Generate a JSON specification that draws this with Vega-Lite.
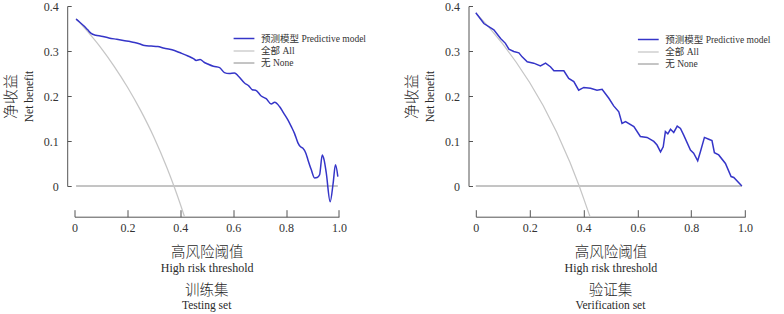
{
  "$schema": "https://vega.github.io/schema/vega-lite/v6.json",
  "padding": {"left": 2.5, "top": 0, "right": 0, "bottom": 0},
  "bounds": "flush",
  "spacing": 136.3,
  "resolve": {
    "scale": {"color": "independent", "strokeWidth": "independent"},
    "legend": {"color": "independent", "strokeWidth": "independent"}
  },
  "config": {
    "view": {"stroke": null},
    "font": "Liberation Serif, Times New Roman, Noto Sans CJK SC",
    "axis": {
      "grid": false,
      "domainColor": "#555",
      "tickColor": "#555",
      "labelColor": "#333",
      "titleColor": "#2a2a2a",
      "labelFont": "Liberation Serif, Times New Roman, serif",
      "labelFontSize": 12,
      "labelFlush": false,
      "titleFontWeight": "normal",
      "labelPadding": 13
    }
  },
  "datasets": {
    "train": [
      {"s": "无 None", "t": 0.006, "v": 0},
      {"s": "无 None", "t": 0.996, "v": 0},
      {"s": "全部 All", "t": 0.006, "v": 0.372},
      {"s": "全部 All", "t": 0.05, "v": 0.343},
      {"s": "全部 All", "t": 0.1, "v": 0.307},
      {"s": "全部 All", "t": 0.15, "v": 0.266},
      {"s": "全部 All", "t": 0.2, "v": 0.22},
      {"s": "全部 All", "t": 0.25, "v": 0.168},
      {"s": "全部 All", "t": 0.3, "v": 0.109},
      {"s": "全部 All", "t": 0.35, "v": 0.04},
      {"s": "全部 All", "t": 0.376, "v": 0},
      {"s": "全部 All", "t": 0.4, "v": -0.04},
      {"s": "全部 All", "t": 0.416, "v": -0.068},
      {"s": "预测模型 Predictive model", "t": 0.006, "v": 0.371},
      {"s": "预测模型 Predictive model", "t": 0.02, "v": 0.364},
      {"s": "预测模型 Predictive model", "t": 0.035, "v": 0.356},
      {"s": "预测模型 Predictive model", "t": 0.05, "v": 0.347},
      {"s": "预测模型 Predictive model", "t": 0.063, "v": 0.339},
      {"s": "预测模型 Predictive model", "t": 0.08, "v": 0.335},
      {"s": "预测模型 Predictive model", "t": 0.101, "v": 0.333},
      {"s": "预测模型 Predictive model", "t": 0.13, "v": 0.329},
      {"s": "预测模型 Predictive model", "t": 0.16, "v": 0.326},
      {"s": "预测模型 Predictive model", "t": 0.19, "v": 0.323},
      {"s": "预测模型 Predictive model", "t": 0.21, "v": 0.321},
      {"s": "预测模型 Predictive model", "t": 0.227, "v": 0.319},
      {"s": "预测模型 Predictive model", "t": 0.245, "v": 0.316},
      {"s": "预测模型 Predictive model", "t": 0.265, "v": 0.312},
      {"s": "预测模型 Predictive model", "t": 0.29, "v": 0.311},
      {"s": "预测模型 Predictive model", "t": 0.315, "v": 0.31},
      {"s": "预测模型 Predictive model", "t": 0.34, "v": 0.306},
      {"s": "预测模型 Predictive model", "t": 0.36, "v": 0.304},
      {"s": "预测模型 Predictive model", "t": 0.378, "v": 0.301},
      {"s": "预测模型 Predictive model", "t": 0.4, "v": 0.296},
      {"s": "预测模型 Predictive model", "t": 0.429, "v": 0.289},
      {"s": "预测模型 Predictive model", "t": 0.45, "v": 0.283},
      {"s": "预测模型 Predictive model", "t": 0.46, "v": 0.279},
      {"s": "预测模型 Predictive model", "t": 0.475, "v": 0.281},
      {"s": "预测模型 Predictive model", "t": 0.49, "v": 0.275},
      {"s": "预测模型 Predictive model", "t": 0.504, "v": 0.271},
      {"s": "预测模型 Predictive model", "t": 0.525, "v": 0.266},
      {"s": "预测模型 Predictive model", "t": 0.549, "v": 0.263},
      {"s": "预测模型 Predictive model", "t": 0.567, "v": 0.252},
      {"s": "预测模型 Predictive model", "t": 0.585, "v": 0.25},
      {"s": "预测模型 Predictive model", "t": 0.605, "v": 0.251},
      {"s": "预测模型 Predictive model", "t": 0.62, "v": 0.244},
      {"s": "预测模型 Predictive model", "t": 0.643, "v": 0.229},
      {"s": "预测模型 Predictive model", "t": 0.66, "v": 0.222},
      {"s": "预测模型 Predictive model", "t": 0.672, "v": 0.214},
      {"s": "预测模型 Predictive model", "t": 0.685, "v": 0.213},
      {"s": "预测模型 Predictive model", "t": 0.706, "v": 0.2},
      {"s": "预测模型 Predictive model", "t": 0.725, "v": 0.194},
      {"s": "预测模型 Predictive model", "t": 0.744, "v": 0.182},
      {"s": "预测模型 Predictive model", "t": 0.757, "v": 0.186},
      {"s": "预测模型 Predictive model", "t": 0.776, "v": 0.176},
      {"s": "预测模型 Predictive model", "t": 0.79, "v": 0.163},
      {"s": "预测模型 Predictive model", "t": 0.807, "v": 0.147},
      {"s": "预测模型 Predictive model", "t": 0.82, "v": 0.132},
      {"s": "预测模型 Predictive model", "t": 0.832, "v": 0.117},
      {"s": "预测模型 Predictive model", "t": 0.845, "v": 0.096},
      {"s": "预测模型 Predictive model", "t": 0.855, "v": 0.087},
      {"s": "预测模型 Predictive model", "t": 0.864, "v": 0.084},
      {"s": "预测模型 Predictive model", "t": 0.875, "v": 0.073},
      {"s": "预测模型 Predictive model", "t": 0.883, "v": 0.058},
      {"s": "预测模型 Predictive model", "t": 0.895, "v": 0.037},
      {"s": "预测模型 Predictive model", "t": 0.908, "v": 0.018},
      {"s": "预测模型 Predictive model", "t": 0.918, "v": 0.019},
      {"s": "预测模型 Predictive model", "t": 0.927, "v": 0.025},
      {"s": "预测模型 Predictive model", "t": 0.937, "v": 0.069},
      {"s": "预测模型 Predictive model", "t": 0.944, "v": 0.058},
      {"s": "预测模型 Predictive model", "t": 0.952, "v": 0.03},
      {"s": "预测模型 Predictive model", "t": 0.967, "v": -0.035},
      {"s": "预测模型 Predictive model", "t": 0.978, "v": 0.005},
      {"s": "预测模型 Predictive model", "t": 0.987, "v": 0.047},
      {"s": "预测模型 Predictive model", "t": 0.996, "v": 0.021}
    ],
    "valid": [
      {"s": "无 None", "t": 0.0, "v": 0},
      {"s": "无 None", "t": 0.988, "v": 0},
      {"s": "全部 All", "t": 0.005, "v": 0.381},
      {"s": "全部 All", "t": 0.05, "v": 0.352},
      {"s": "全部 All", "t": 0.1, "v": 0.316},
      {"s": "全部 All", "t": 0.15, "v": 0.275},
      {"s": "全部 All", "t": 0.2, "v": 0.23},
      {"s": "全部 All", "t": 0.25, "v": 0.179},
      {"s": "全部 All", "t": 0.3, "v": 0.12},
      {"s": "全部 All", "t": 0.35, "v": 0.052},
      {"s": "全部 All", "t": 0.384, "v": 0},
      {"s": "全部 All", "t": 0.4, "v": -0.027},
      {"s": "全部 All", "t": 0.424, "v": -0.068},
      {"s": "预测模型 Predictive model", "t": 0.0, "v": 0.385},
      {"s": "预测模型 Predictive model", "t": 0.03, "v": 0.361},
      {"s": "预测模型 Predictive model", "t": 0.067, "v": 0.347},
      {"s": "预测模型 Predictive model", "t": 0.092, "v": 0.328},
      {"s": "预测模型 Predictive model", "t": 0.11, "v": 0.317},
      {"s": "预测模型 Predictive model", "t": 0.123, "v": 0.304},
      {"s": "预测模型 Predictive model", "t": 0.141, "v": 0.299},
      {"s": "预测模型 Predictive model", "t": 0.16, "v": 0.296},
      {"s": "预测模型 Predictive model", "t": 0.172, "v": 0.287},
      {"s": "预测模型 Predictive model", "t": 0.191, "v": 0.276},
      {"s": "预测模型 Predictive model", "t": 0.215, "v": 0.273},
      {"s": "预测模型 Predictive model", "t": 0.24, "v": 0.267},
      {"s": "预测模型 Predictive model", "t": 0.259, "v": 0.273},
      {"s": "预测模型 Predictive model", "t": 0.277, "v": 0.265},
      {"s": "预测模型 Predictive model", "t": 0.29, "v": 0.256},
      {"s": "预测模型 Predictive model", "t": 0.327, "v": 0.256},
      {"s": "预测模型 Predictive model", "t": 0.345, "v": 0.239},
      {"s": "预测模型 Predictive model", "t": 0.364, "v": 0.232},
      {"s": "预测模型 Predictive model", "t": 0.382, "v": 0.213},
      {"s": "预测模型 Predictive model", "t": 0.401, "v": 0.219},
      {"s": "预测模型 Predictive model", "t": 0.426, "v": 0.217},
      {"s": "预测模型 Predictive model", "t": 0.45, "v": 0.213},
      {"s": "预测模型 Predictive model", "t": 0.469, "v": 0.215},
      {"s": "预测模型 Predictive model", "t": 0.494, "v": 0.195},
      {"s": "预测模型 Predictive model", "t": 0.512, "v": 0.178},
      {"s": "预测模型 Predictive model", "t": 0.531, "v": 0.165},
      {"s": "预测模型 Predictive model", "t": 0.543, "v": 0.139},
      {"s": "预测模型 Predictive model", "t": 0.556, "v": 0.143},
      {"s": "预测模型 Predictive model", "t": 0.587, "v": 0.132},
      {"s": "预测模型 Predictive model", "t": 0.611, "v": 0.11},
      {"s": "预测模型 Predictive model", "t": 0.636, "v": 0.108},
      {"s": "预测模型 Predictive model", "t": 0.661, "v": 0.099},
      {"s": "预测模型 Predictive model", "t": 0.673, "v": 0.091},
      {"s": "预测模型 Predictive model", "t": 0.686, "v": 0.076},
      {"s": "预测模型 Predictive model", "t": 0.696, "v": 0.087},
      {"s": "预测模型 Predictive model", "t": 0.704, "v": 0.121},
      {"s": "预测模型 Predictive model", "t": 0.713, "v": 0.116},
      {"s": "预测模型 Predictive model", "t": 0.723, "v": 0.126},
      {"s": "预测模型 Predictive model", "t": 0.735, "v": 0.119},
      {"s": "预测模型 Predictive model", "t": 0.748, "v": 0.133},
      {"s": "预测模型 Predictive model", "t": 0.76, "v": 0.128},
      {"s": "预测模型 Predictive model", "t": 0.772, "v": 0.113},
      {"s": "预测模型 Predictive model", "t": 0.797, "v": 0.08},
      {"s": "预测模型 Predictive model", "t": 0.809, "v": 0.073},
      {"s": "预测模型 Predictive model", "t": 0.824, "v": 0.056},
      {"s": "预测模型 Predictive model", "t": 0.834, "v": 0.076},
      {"s": "预测模型 Predictive model", "t": 0.849, "v": 0.108},
      {"s": "预测模型 Predictive model", "t": 0.865, "v": 0.104},
      {"s": "预测模型 Predictive model", "t": 0.877, "v": 0.101},
      {"s": "预测模型 Predictive model", "t": 0.886, "v": 0.074},
      {"s": "预测模型 Predictive model", "t": 0.902, "v": 0.069},
      {"s": "预测模型 Predictive model", "t": 0.927, "v": 0.05},
      {"s": "预测模型 Predictive model", "t": 0.948, "v": 0.021},
      {"s": "预测模型 Predictive model", "t": 0.958, "v": 0.019},
      {"s": "预测模型 Predictive model", "t": 0.988, "v": 0.0}
    ]
  },
  "hconcat": [
    {
      "width": 264.4,
      "height": 180,
      "data": {"name": "train"},
      "title": {"text": "训练集", "subtitle": "Testing set", "orient": "bottom", "anchor": "middle", "frame": "group", "offset": 10, "fontSize": 14.5, "font": "Noto Sans CJK SC", "fontWeight": 300, "color": "#2a2a2a", "subtitleFont": "Liberation Serif, Times New Roman, serif", "subtitleFontSize": 11.5, "subtitleColor": "#2a2a2a", "subtitlePadding": 2},
      "resolve": {"axis": {"x": "independent", "y": "independent"}},
      "layer": [
        {
          "transform": [{"filter": "datum.s === '无 None'"}],
          "mark": {"type": "line", "clip": false},
          "encoding": {
            "x": {"field": "t", "type": "quantitative", "scale": {"domain": [0, 1], "nice": false, "zero": false},
              "axis": {"orient": "bottom", "offset": 30.7, "values": [0, 0.2, 0.4, 0.6, 0.8, 1], "tickSize": -7, "labelExpr": "datum.value === 0 ? '0' : format(datum.value, '.1f')", "title": "高风险阈值", "titleFont": "Noto Sans CJK SC", "titleFontWeight": 300, "titleFontSize": 14.5, "titlePadding": 12}},
            "y": {"field": "v", "type": "quantitative", "scale": {"domain": [0, 0.4], "nice": false, "zero": false},
              "axis": {"orient": "left", "offset": 7.3, "values": [0, 0.1, 0.2, 0.3, 0.4], "tickSize": -4, "labelExpr": "datum.value === 0 ? '0' : format(datum.value, '.1f')", "title": "Net benefit", "titleFont": "Liberation Serif, Times New Roman, serif", "titleFontSize": 11.5, "titlePadding": 9}},
            "color": {"field": "s", "type": "nominal", "scale": {"domain": ["预测模型 Predictive model", "全部 All", "无 None"], "range": ["#3535c8", "#c6c6c6", "#8a8a8a"]},
              "legend": {"orient": "none", "legendX": 162, "legendY": 25, "title": null, "direction": "vertical", "symbolType": "M-1.6,0L1.6,0", "symbolSize": 169, "labelFont": "Liberation Serif, Times New Roman, Noto Sans CJK SC", "labelFontSize": 9.5, "labelColor": "#333", "labelOffset": 9.5, "rowPadding": 0.5}},
            "strokeWidth": {"field": "s", "type": "nominal", "scale": {"domain": ["预测模型 Predictive model", "全部 All", "无 None"], "range": [1.5, 1, 1.3]},
              "legend": {"orient": "none", "legendX": 162, "legendY": 25, "title": null, "direction": "vertical", "symbolType": "M-1.6,0L1.6,0", "symbolSize": 169, "labelFont": "Liberation Serif, Times New Roman, Noto Sans CJK SC", "labelFontSize": 9.5, "labelColor": "#333", "labelOffset": 9.5, "rowPadding": 0.5}}
          }
        },
        {
          "transform": [{"filter": "datum.s !== '无 None'"}],
          "mark": {"type": "line", "clip": false, "interpolate": "monotone"},
          "encoding": {
            "x": {"field": "t", "type": "quantitative",
              "axis": {"orient": "bottom", "offset": 30.7, "domainOpacity": 0, "ticks": false, "labels": false, "title": "High risk threshold", "titleFont": "Liberation Serif, Times New Roman, serif", "titleFontSize": 12, "titlePadding": 46}},
            "y": {"field": "v", "type": "quantitative",
              "axis": {"orient": "left", "offset": 7.3, "domainOpacity": 0, "ticks": false, "labels": false, "title": "净收益", "titleFont": "Noto Sans CJK SC", "titleFontWeight": 300, "titleFontSize": 15, "titlePadding": 49}},
            "color": {"field": "s", "type": "nominal"},
            "strokeWidth": {"field": "s", "type": "nominal"}
          }
        }
      ]
    },
    {
      "width": 269.3,
      "height": 180,
      "data": {"name": "valid"},
      "title": {"text": "验证集", "subtitle": "Verification set", "orient": "bottom", "anchor": "middle", "frame": "group", "offset": 10, "fontSize": 14.5, "font": "Noto Sans CJK SC", "fontWeight": 300, "color": "#2a2a2a", "subtitleFont": "Liberation Serif, Times New Roman, serif", "subtitleFontSize": 11.5, "subtitleColor": "#2a2a2a", "subtitlePadding": 2},
      "resolve": {"axis": {"x": "independent", "y": "independent"}},
      "layer": [
        {
          "transform": [{"filter": "datum.s === '无 None'"}],
          "mark": {"type": "line", "clip": false},
          "encoding": {
            "x": {"field": "t", "type": "quantitative", "scale": {"domain": [0, 1], "nice": false, "zero": false},
              "axis": {"orient": "bottom", "offset": 30.7, "values": [0, 0.2, 0.4, 0.6, 0.8, 1], "tickSize": -7, "labelExpr": "datum.value === 0 ? '0' : format(datum.value, '.1f')", "title": "高风险阈值", "titleFont": "Noto Sans CJK SC", "titleFontWeight": 300, "titleFontSize": 14.5, "titlePadding": 12}},
            "y": {"field": "v", "type": "quantitative", "scale": {"domain": [0, 0.4], "nice": false, "zero": false},
              "axis": {"orient": "left", "offset": 7.3, "values": [0, 0.1, 0.2, 0.3, 0.4], "tickSize": -4, "labelExpr": "datum.value === 0 ? '0' : format(datum.value, '.1f')", "title": "Net benefit", "titleFont": "Liberation Serif, Times New Roman, serif", "titleFontSize": 11.5, "titlePadding": 9}},
            "color": {"field": "s", "type": "nominal", "scale": {"domain": ["预测模型 Predictive model", "全部 All", "无 None"], "range": ["#3535c8", "#c6c6c6", "#8a8a8a"]},
              "legend": {"orient": "none", "legendX": 165, "legendY": 26, "title": null, "direction": "vertical", "symbolType": "M-1.6,0L1.6,0", "symbolSize": 169, "labelFont": "Liberation Serif, Times New Roman, Noto Sans CJK SC", "labelFontSize": 9.5, "labelColor": "#333", "labelOffset": 9.5, "rowPadding": 0.5}},
            "strokeWidth": {"field": "s", "type": "nominal", "scale": {"domain": ["预测模型 Predictive model", "全部 All", "无 None"], "range": [1.5, 1, 1.3]},
              "legend": {"orient": "none", "legendX": 165, "legendY": 26, "title": null, "direction": "vertical", "symbolType": "M-1.6,0L1.6,0", "symbolSize": 169, "labelFont": "Liberation Serif, Times New Roman, Noto Sans CJK SC", "labelFontSize": 9.5, "labelColor": "#333", "labelOffset": 9.5, "rowPadding": 0.5}}
          }
        },
        {
          "transform": [{"filter": "datum.s !== '无 None'"}],
          "mark": {"type": "line", "clip": false, "interpolate": "linear"},
          "encoding": {
            "x": {"field": "t", "type": "quantitative",
              "axis": {"orient": "bottom", "offset": 30.7, "domainOpacity": 0, "ticks": false, "labels": false, "title": "High risk threshold", "titleFont": "Liberation Serif, Times New Roman, serif", "titleFontSize": 12, "titlePadding": 46}},
            "y": {"field": "v", "type": "quantitative",
              "axis": {"orient": "left", "offset": 7.3, "domainOpacity": 0, "ticks": false, "labels": false, "title": "净收益", "titleFont": "Noto Sans CJK SC", "titleFontWeight": 300, "titleFontSize": 15, "titlePadding": 49}},
            "color": {"field": "s", "type": "nominal"},
            "strokeWidth": {"field": "s", "type": "nominal"}
          }
        }
      ]
    }
  ]
}
